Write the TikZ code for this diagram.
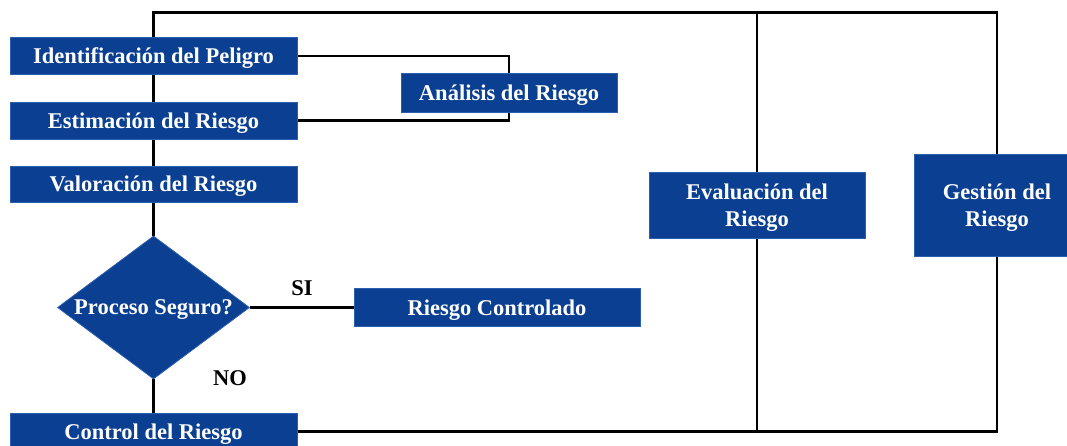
\documentclass[tikz,border=0pt]{standalone}
\usepackage{fontspec}
\setmainfont{Liberation Serif}
\usetikzlibrary{shapes.geometric,backgrounds}
\definecolor{boxblue}{RGB}{11,63,145}
\definecolor{edgeblue}{RGB}{45,95,175}
\tikzset{
  box/.style={rectangle, fill=boxblue, draw=edgeblue, line width=0.8pt, text=white,
    font=\fontsize{22.5}{27}\selectfont\bfseries, inner sep=0pt, align=center, text depth=0pt},
  decision/.style={diamond, fill=boxblue, draw=edgeblue, line width=0.8pt, text=white,
    font=\fontsize{22.5}{27}\selectfont\bfseries, inner sep=0pt, aspect=1.343, text depth=0pt},
  conn/.style={draw=black, line width=2.2pt},
  lbl/.style={text=black, font=\fontsize{22.5}{27}\selectfont\bfseries, inner sep=0pt}
}
\begin{document}
\begin{tikzpicture}[x=1pt,y=-1pt]
\useasboundingbox (0,0) rectangle (1067,446);
\clip (0,0) rectangle (1067,446);
\node[box, minimum width=287, minimum height=37] (id) at (153.5,56) {Identificación del Peligro};
\node[box, minimum width=287, minimum height=37] (est) at (153.5,120.5) {Estimación del Riesgo};
\node[box, minimum width=287, minimum height=36] (val) at (153.5,184) {Valoración del Riesgo};
\node[decision, minimum width=192, minimum height=143] (dia) at (153.5,307.5) {Proceso Seguro?};
\node[box, minimum width=287, minimum height=37] (ctrl) at (153.5,431.5) {Control del Riesgo};
\node[box, minimum width=216, minimum height=39] (ana) at (509,92.5) {Análisis del Riesgo};
\node[box, minimum width=286, minimum height=38] (rc) at (497,307.5) {Riesgo Controlado};
\node[box, minimum width=216, minimum height=66] (eva) at (757,205) {Evaluación del\\Riesgo};
\node[box, minimum width=166, minimum height=102] (ges) at (997,205) {Gestión del\\Riesgo};
\coordinate (tr) at (997,12.5);
\node[lbl] (si) at (302,288) {SI};
\node[lbl] (no) at (230,378) {NO};
\begin{pgfonlayer}{background}
\fill[white] (0,0) rectangle (1067,446);
\draw[conn] (id.north) |- (tr) -- (ges.north);
\draw[conn] (eva.north) -- (eva.north |- tr);
\draw[conn] (id) -- (est) -- (val) -- (dia) -- (ctrl);
\draw[conn] (id.east) -| (ana.center) |- (est.east);
\draw[conn] (dia.east) -- (rc.west);
\draw[conn] (ctrl.east) -| (ges.south);
\draw[conn] (eva.south) -- (eva.south |- ctrl.east);
\end{pgfonlayer}
\end{tikzpicture}
\end{document}
